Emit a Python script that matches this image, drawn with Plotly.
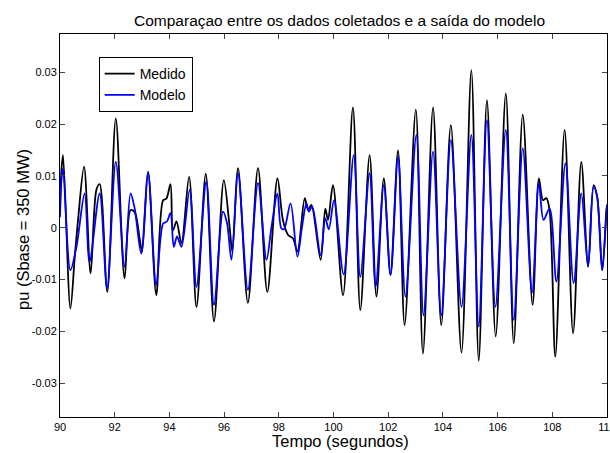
import plotly.graph_objects as go

# Medido (black) - time (s) and value (pu x 1e-3)
t_medido = [90.00, 90.05, 90.11, 90.38, 90.54, 90.66, 90.88, 91.12, 91.33, 91.45, 91.73, 92.04,
            92.36, 92.58, 92.73, 92.91, 93.00, 93.22, 93.52, 93.77, 93.89, 94.04, 94.13, 94.26,
            94.44, 94.72, 94.99, 95.33, 95.63, 95.99, 96.20, 96.30, 96.51, 96.87, 97.24, 97.58,
            97.95, 98.15, 98.34, 98.52, 98.68, 98.95, 99.07, 99.19, 99.53, 99.70, 99.80, 99.98,
            100.35, 100.71, 100.98, 101.32, 101.57, 101.84, 102.08, 102.36, 102.60, 103.01,
            103.27, 103.64, 103.94, 104.29, 104.68, 105.04, 105.31, 105.61, 105.93, 106.30,
            106.59, 106.92, 107.28, 107.51, 107.66, 107.78, 107.90, 108.11, 108.45, 108.76,
            109.06, 109.31, 109.51, 109.64, 109.83, 109.98, 110.00]
v_medido = [3.0, 11.0, 14.0, -15.6, -5.6, 1.5, 11.8, -8.8, 7.3, 8.4, -12.4, 21.1,
            -9.8, 3.4, 3.0, -2.0, -4.6, 10.8, -13.0, 5.3, 5.6, 8.4, -0.5, 1.2,
            -3.0, 9.8, -15.3, 10.4, -18.1, 9.2, 0.2, -4.6, 11.5, -14.5, 11.5, -12.4,
            9.5, 1.5, -1.4, -2.1, -4.6, 5.7, 3.4, 4.4, -6.2, 3.7, 1.5, 8.2,
            -13.0, 23.2, -15.9, 14.0, -13.3, 9.5, -9.1, 14.9, -18.8, 22.8,
            -24.3, 23.2, -18.8, 19.8, -24.1, 30.4, -25.7, 24.6, -21.0, 25.9,
            -22.3, 21.8, -14.9, 9.5, 5.3, 5.7, 3.4, -24.9, 18.9, -20.4,
            12.7, -7.5, 8.2, 6.0, -8.2, 3.4, 4.0]

# Modelo (blue)
t_modelo = [90.00, 90.05, 90.11, 90.38, 90.60, 90.90, 91.08, 91.45, 91.72, 92.04, 92.36, 92.58,
            92.73, 92.97, 93.22, 93.52, 93.77, 93.91, 94.04, 94.16, 94.28, 94.44, 94.74, 94.99,
            95.35, 95.63, 95.96, 96.11, 96.27, 96.51, 96.87, 97.24, 97.55, 97.73, 97.95, 98.09,
            98.19, 98.43, 98.68, 98.85, 99.01, 99.10, 99.22, 99.53, 99.70, 99.83, 100.02,
            100.37, 100.74, 100.98, 101.32, 101.54, 101.84, 102.09, 102.36, 102.63, 103.03,
            103.29, 103.64, 103.94, 104.29, 104.68, 105.04, 105.31, 105.61, 105.92, 106.30,
            106.59, 106.92, 107.26, 107.51, 107.68, 107.90, 108.15, 108.48, 108.78, 109.06,
            109.31, 109.51, 109.64, 109.82, 109.98, 110.00]
v_modelo = [2.0, 9.0, 11.5, -8.2, -3.7, 6.6, -6.6, 6.6, -11.7, 12.7, -7.5, 6.6,
            3.7, -5.0, 10.6, -11.1, 0.8, 1.2, 2.8, -3.7, -1.7, -3.7, 7.3, -11.4,
            8.9, -14.9, 3.1, 0.8, -6.2, 10.5, -12.0, 8.6, -6.2, 0.0, 6.6, -0.1,
            -0.3, 4.7, -5.6, 0.2, 4.7, 3.1, 4.1, -5.3, 1.8, -0.3, 5.3,
            -9.0, 14.0, -9.5, 10.5, -11.4, 8.2, -9.1, 13.7, -13.3, 17.9,
            -16.9, 14.7, -16.9, 16.9, -15.3, 17.9, -19.1, 20.8, -15.3, 18.9,
            -17.8, 15.3, -12.5, 8.6, 1.5, 3.7, -10.4, 12.4, -10.7, 6.6,
            -7.5, 7.9, 6.0, -8.2, 3.0, 4.5]

y_ticks = [-0.03, -0.02, -0.01, 0, 0.01, 0.02, 0.03]
y_tick_labels = ["-0.03", "-0.02", "-0.01", "0", "0.01", "0.02", "0.03"]
x_ticks = [90, 92, 94, 96, 98, 100, 102, 104, 106, 108, 110]

TITLE = "Comparaçao entre os dados coletados e a saída do modelo"
XLABEL = "Tempo (segundos)"
YLABEL = "pu (Sbase = 350 MW)"

FONT = "Liberation Sans, Arial, sans-serif"
L, R, T, B = 60, 3, 34, 36
W, H = 610, 453
PW, PH = W - L - R, H - T - B

fig = go.Figure()
fig.add_trace(go.Scatter(x=t_medido, y=[v / 1000 for v in v_medido], mode="lines", name="Medido",
                         line=dict(color="black", width=1.8, shape="spline", smoothing=0.9)))
fig.add_trace(go.Scatter(x=t_modelo, y=[v / 1000 for v in v_modelo], mode="lines", name="Modelo",
                         line=dict(color="#0000FF", width=1.8, shape="spline", smoothing=0.9)))

fig.update_layout(
    width=W, height=H,
    margin=dict(l=L, r=R, t=T, b=B, autoexpand=False),
    paper_bgcolor="white", plot_bgcolor="white",
    font=dict(family=FONT, color="black", size=11),
    legend=dict(x=0.0707, y=0.94, xanchor="left", yanchor="top",
                bordercolor="black", borderwidth=1, bgcolor="white",
                font=dict(size=14, family=FONT), itemwidth=30, tracegroupgap=0),
    showlegend=True,
    annotations=[
        dict(text=TITLE, xref="paper", yref="paper", x=(339 - L) / PW, y=(H - B - 20) / PH,
             xanchor="center", yanchor="middle", showarrow=False, font=dict(size=15.5)),
        dict(text=XLABEL, xref="paper", yref="paper", x=(340 - L) / PW, y=(H - B - 441) / PH,
             xanchor="center", yanchor="middle", showarrow=False, font=dict(size=16.5)),
        dict(text=YLABEL, xref="paper", yref="paper", x=(23 - L) / PW, y=(H - B - 230) / PH,
             xanchor="center", yanchor="middle", showarrow=False, textangle=-90,
             font=dict(size=16.5)),
    ],
)
fig.update_xaxes(range=[90, 110], tickvals=x_ticks, ticks="inside", ticklen=5,
                 showline=True, linecolor="black", linewidth=1, mirror="ticks",
                 showgrid=False, zeroline=False, ticklabeloverflow="allow",
                 automargin=False, tickfont=dict(size=11))
fig.update_yaxes(range=[-0.03654, 0.03739], tickvals=y_ticks, ticktext=y_tick_labels,
                 ticks="inside", ticklen=5,
                 showline=True, linecolor="black", linewidth=1, mirror="ticks",
                 showgrid=False, zeroline=False, automargin=False,
                 tickfont=dict(size=11))

fig.write_html("out.html")
